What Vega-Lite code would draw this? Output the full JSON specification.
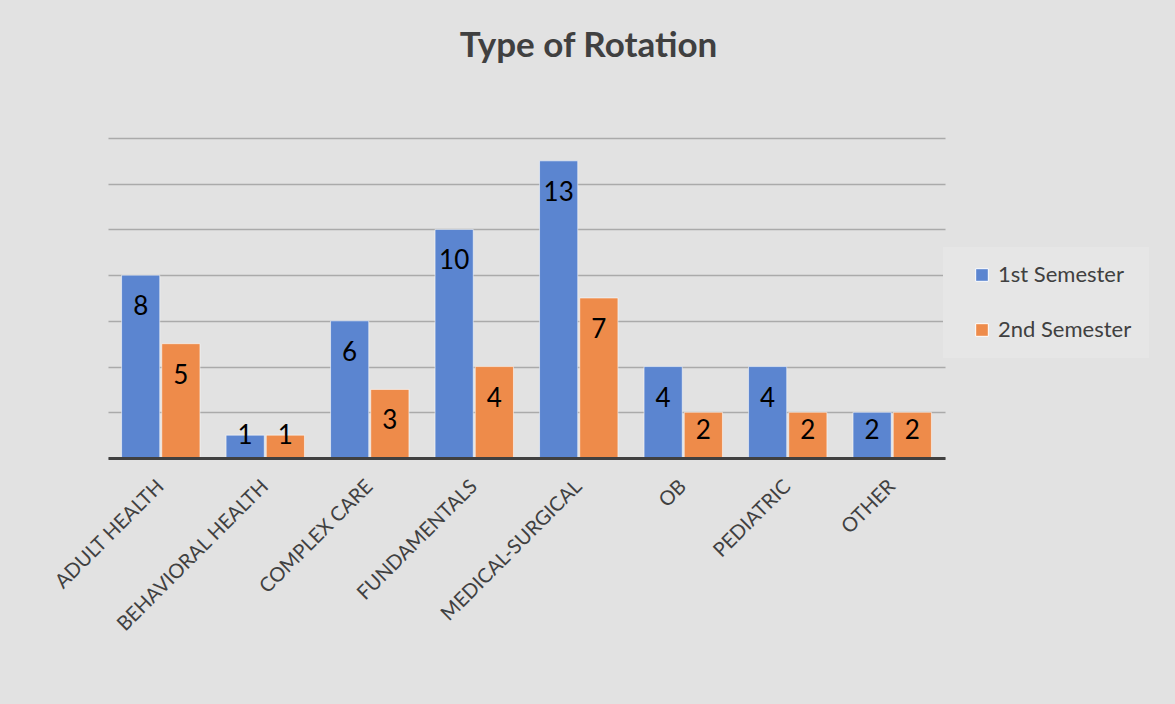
{
  "$schema": "https://vega.github.io/schema/vega-lite/v6.json",
  "width": 837,
  "height": 320,
  "autosize": {"type": "none"},
  "padding": {"left": 108, "top": 138, "right": 230, "bottom": 246},
  "background": "#e2e2e2",
  "config": {
    "font": "Lato",
    "view": {"stroke": null},
    "axis": {"labelFont": "Lato", "titleFont": "Lato"},
    "legend": {"labelFont": "Lato"}
  },
  "title": {
    "text": "Type of Rotation",
    "fontSize": 35,
    "fontWeight": "bold",
    "color": "#404040",
    "font": "Lato",
    "anchor": "middle",
    "frame": "group",
    "dx": 62,
    "offset": 74
  },
  "data": {
    "values": [
      {"rotation": "ADULT HEALTH", "semester": "1st Semester", "count": 8},
      {"rotation": "ADULT HEALTH", "semester": "2nd Semester", "count": 5},
      {"rotation": "BEHAVIORAL HEALTH", "semester": "1st Semester", "count": 1},
      {"rotation": "BEHAVIORAL HEALTH", "semester": "2nd Semester", "count": 1},
      {"rotation": "COMPLEX CARE", "semester": "1st Semester", "count": 6},
      {"rotation": "COMPLEX CARE", "semester": "2nd Semester", "count": 3},
      {"rotation": "FUNDAMENTALS", "semester": "1st Semester", "count": 10},
      {"rotation": "FUNDAMENTALS", "semester": "2nd Semester", "count": 4},
      {"rotation": "MEDICAL-SURGICAL", "semester": "1st Semester", "count": 13},
      {"rotation": "MEDICAL-SURGICAL", "semester": "2nd Semester", "count": 7},
      {"rotation": "OB", "semester": "1st Semester", "count": 4},
      {"rotation": "OB", "semester": "2nd Semester", "count": 2},
      {"rotation": "PEDIATRIC", "semester": "1st Semester", "count": 4},
      {"rotation": "PEDIATRIC", "semester": "2nd Semester", "count": 2},
      {"rotation": "OTHER", "semester": "1st Semester", "count": 2},
      {"rotation": "OTHER", "semester": "2nd Semester", "count": 2}
    ]
  },
  "encoding": {
    "x": {
      "field": "rotation",
      "type": "nominal",
      "sort": null,
      "scale": {"paddingInner": 0.25, "paddingOuter": 0.13},
      "axis": {
        "title": null,
        "labelAngle": -45,
        "labelAlign": "right",
        "labelBaseline": "middle",
        "labelFontSize": 20,
        "labelColor": "#404040",
        "labelPadding": 25,
        "labelLimit": 300,
        "ticks": false,
        "domainColor": "#404040",
        "domainWidth": 3,
        "grid": false,
        "zindex": 1
      }
    },
    "xOffset": {
      "field": "semester",
      "type": "nominal",
      "scale": {"paddingInner": 0.05}
    },
    "y": {
      "field": "count",
      "type": "quantitative",
      "scale": {"domain": [0, 14], "nice": false},
      "axis": {
        "title": null,
        "labels": false,
        "ticks": false,
        "domain": false,
        "values": [0, 2, 4, 6, 8, 10, 12, 14],
        "gridColor": "#aaaaaa",
        "gridWidth": 1.5
      }
    }
  },
  "layer": [
    {
      "mark": {"type": "bar", "stroke": "#ffffff", "strokeOpacity": 0.55, "strokeWidth": 1},
      "encoding": {
        "color": {
          "field": "semester",
          "type": "nominal",
          "scale": {"domain": ["1st Semester", "2nd Semester"], "range": ["#5b85d0", "#ee8b4a"]},
          "legend": {
            "title": null,
            "orient": "none",
            "legendX": 835,
            "legendY": 109,
            "direction": "vertical",
            "fillColor": "#e6e6e6",
            "padding": 17,
            "symbolType": "square",
            "symbolSize": 160,
            "symbolStrokeColor": "#ffffff",
            "symbolStrokeWidth": 1,
            "symbolOffset": 11,
            "labelFontSize": 22,
            "labelColor": "#404040",
            "labelOffset": 5,
            "rowPadding": 33
          }
        }
      }
    },
    {
      "transform": [{"filter": "datum.count >= 3"}],
      "mark": {"type": "text", "baseline": "middle", "dy": 32, "fontSize": 26, "color": "#000000"},
      "encoding": {"text": {"field": "count", "type": "quantitative"}}
    },
    {
      "transform": [{"filter": "datum.count == 2"}],
      "mark": {"type": "text", "baseline": "middle", "dy": 19, "fontSize": 26, "color": "#000000"},
      "encoding": {"text": {"field": "count", "type": "quantitative"}}
    },
    {
      "transform": [{"filter": "datum.count == 1"}],
      "mark": {"type": "text", "baseline": "middle", "dy": 1, "fontSize": 26, "color": "#000000"},
      "encoding": {"text": {"field": "count", "type": "quantitative"}}
    }
  ]
}
